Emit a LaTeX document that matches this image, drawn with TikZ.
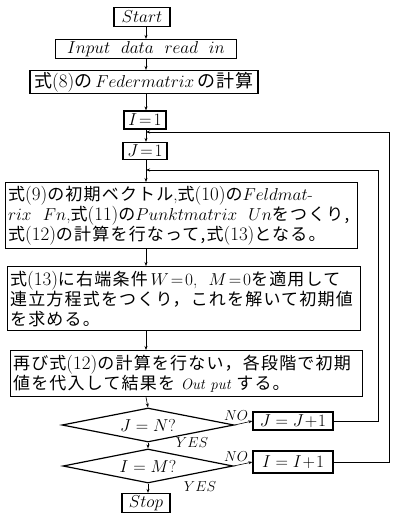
\documentclass[tikz,border=0pt]{standalone}
\usepackage{fontspec}
\newfontfamily\cjk[LetterSpace=7]{Noto Sans CJK JP}
\usetikzlibrary{shapes.geometric,arrows.meta}
\newcommand\jp[1]{{\cjk #1}}
\newcommand\mi[1]{{\fontsize{18.5}{20}\selectfont$#1$}}
\newcommand\nm[1]{{\fontsize{19}{20}\selectfont #1}}
\begin{document}
\begin{tikzpicture}[x=1pt,y=-1pt,
  conn/.style={line width=0.6pt,-{Stealth[length=4pt,width=3pt]}},
  sbox/.style={draw,line width=1.2pt,inner sep=1.5pt,font=\fontsize{18}{20}\selectfont},
  bigbox/.style={draw,line width=1.2pt,anchor=north west,align=left,inner xsep=2.5pt,inner ysep=2pt,font=\fontsize{17}{20}\selectfont},
  dia/.style={draw,diamond,line width=1.2pt,aspect=5,inner sep=0pt,font=\fontsize{18}{20}\selectfont},
  lbl/.style={font=\fontsize{15}{17}\selectfont,inner sep=0pt}]
\useasboundingbox (0,0) rectangle (393,515);
\coordinate (ax) at (146,0);
\node[sbox,minimum width=56pt,minimum height=19pt] (start) at (142,17) {$Start$};
\node[sbox,minimum width=181pt,minimum height=19pt] (input) at (146,49) {$Input\ \ data\ \ read\ \ in$};
\node[sbox,minimum width=228pt,minimum height=20pt] (feder) at (144,82) {\jp{式}\nm{(8)}\jp{の}\,$Federmatrix$\,\jp{の計算}};
\node[sbox,minimum width=42pt,minimum height=18pt] (i1) at (145,120) {$I\!=\!1$};
\coordinate (m1) at (146,132);
\coordinate (r1) at (389,132);
\node[sbox,minimum width=44pt,minimum height=17pt] (j1) at (145,151) {$J\!=\!1$};
\coordinate (m2) at (146,170);
\coordinate (r2) at (378,170);
\node[bigbox,minimum width=352pt,minimum height=66pt,text width=347pt] (b1) at (5,182)
 {\jp{式}\nm{(9)}\jp{の初期ベクトル},\jp{式}\nm{(10)}\jp{の}\mi{Feldmat}-\\
  \mi{rix\ \ Fn},\jp{式}\nm{(11)}\jp{の}\mi{Punktmatrix\ \ Un}\jp{をつくり,}\\
  \jp{式}\nm{(12)}\jp{の計算を行なって,式}\nm{(13)}\jp{となる。}};
\node[bigbox,minimum width=353pt,minimum height=64pt,text width=348pt] (b2) at (7,266)
 {\jp{式}\nm{(13)}\jp{に右端条件}\,\mi{W\!=\!0},\ \ \mi{M\!=\!0}\jp{を適用して}\\
  \jp{連立方程式をつくり，これを解いて初期値}\\
  \jp{を求める。}};
\node[bigbox,minimum width=352pt,minimum height=46pt,text width=347pt] (b3) at (10,350)
 {\jp{再び式}\nm{(12)}\jp{の計算を行ない，各段階で初期}\\
  \jp{値を代入して結果を}\ {\fontsize{15}{16}\selectfont\itshape Out\ put}\ \jp{する。}};
\node[dia,minimum width=172pt,minimum height=34pt] (dj) at (148,425) {$J=N?$};
\node[sbox,minimum width=80pt,minimum height=18pt] (jj) at (293,421) {$J=J\!+\!1$};
\node[dia,minimum width=170pt,minimum height=34pt] (di) at (148,466) {$I=M?$};
\node[sbox,minimum width=80pt,minimum height=22pt] (ii) at (293,462) {$I=I\!+\!1$};
\node[sbox,minimum width=48pt,minimum height=19pt] (stop) at (146,503) {$Stop$};
\node[lbl,anchor=south] (no1) at (236,421) {$NO$};
\node[lbl,anchor=south] (no2) at (236,462) {$NO$};
\node[lbl] (yes1) at (192,443) {$YES$};
\node[lbl] (yes2) at (200,487) {$YES$};
% main flow, along the vertical axis x=146
\draw[conn] (start.south -| ax) -- (input.north -| ax);
\draw[conn] (input.south -| ax) -- (feder.north -| ax);
\draw[conn] (feder.south -| ax) -- (i1.north -| ax);
\draw[conn] (i1.south -| ax) -- (j1.north -| ax);
\draw[conn] (j1.south -| ax) -- (b1.north -| ax);
\draw[conn] (b1.south -| ax) -- (b2.north -| ax);
\draw[conn] (b2.south -| ax) -- (b3.north -| ax);
\draw[conn] (b3.south -| ax) -- (dj.north);
\draw[conn] (dj.south) -- (di.north);
\draw[conn] (di.south) -- (stop.north -| di.south);
\draw[conn] (dj.east) -- (jj.west);
\draw[conn] (di.east) -- (ii.west);
% loops
\draw[conn] (jj.east) -| (r2) -- (m2);
\draw[conn] (ii.east) -| (r1) -- (m1);
\end{tikzpicture}
\end{document}
